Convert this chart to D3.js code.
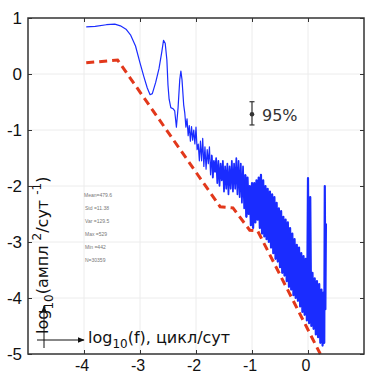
<!DOCTYPE html>
<html>
<head>
<meta charset="utf-8">
<script src="https://cdn.jsdelivr.net/npm/d3@7"></script>
<style>
  body { margin: 0; background: #fff; }
  svg { display: block; }
</style>
</head>
<body>
<figure id="spectrum" style="margin:0"></figure>
<script>
// tick values of both axes
const xTicks = [-4, -3, -2, -1, 0];
const yTicks = [1, 0, -1, -2, -3, -4, -5];

// smooth low-frequency part of the spectrum [log10 f, log10 power]
const lowSpectrum = [
  [-3.96, 0.84], [-3.8, 0.85], [-3.6, 0.88], [-3.45, 0.89], [-3.35, 0.86],
  [-3.25, 0.8], [-3.17, 0.7], [-3.08, 0.5], [-3.0, 0.2], [-2.93, -0.05],
  [-2.87, -0.25], [-2.82, -0.37], [-2.78, -0.35], [-2.72, -0.15], [-2.66, 0.1],
  [-2.61, 0.4], [-2.58, 0.6], [-2.55, 0.55], [-2.52, 0.25], [-2.5, -0.2],
  [-2.48, -0.45], [-2.45, -0.6], [-2.41, -0.62], [-2.38, -0.66], [-2.35, -0.95],
  [-2.32, -0.6], [-2.29, -0.1], [-2.27, 0.05], [-2.25, -0.1], [-2.22, -0.55]
];

// noisy high-frequency part
const highSpectrum = [
  [-2.20, -0.70], [-2.18, -0.95], [-2.16, -0.80], [-2.14, -1.10], [-2.12, -0.92],
  [-2.10, -1.20], [-2.08, -0.94], [-2.06, -1.18], [-2.04, -1.00], [-2.02, -1.25],
  [-2.00, -0.95], [-1.98, -1.35], [-1.96, -1.25], [-1.94, -1.55], [-1.92, -1.20],
  [-1.90, -1.55], [-1.88, -1.15], [-1.86, -1.65], [-1.84, -1.30], [-1.82, -1.70],
  [-1.80, -1.35], [-1.78, -1.60], [-1.76, -1.30], [-1.74, -1.80], [-1.72, -1.45],
  [-1.70, -1.85], [-1.68, -1.55], [-1.66, -1.75], [-1.64, -1.50], [-1.62, -1.95],
  [-1.60, -1.55], [-1.58, -2.00], [-1.56, -1.60], [-1.54, -1.90], [-1.52, -1.55],
  [-1.50, -2.10], [-1.48, -1.65], [-1.46, -2.05], [-1.44, -1.60], [-1.42, -2.15],
  [-1.40, -1.65], [-1.38, -2.05], [-1.36, -1.55], [-1.34, -2.10], [-1.32, -1.60],
  [-1.30, -2.05], [-1.28, -1.50], [-1.26, -2.15], [-1.24, -1.55], [-1.22, -2.20],
  [-1.20, -1.60], [-1.18, -2.30], [-1.16, -1.65], [-1.14, -2.40], [-1.12, -1.80],
  [-1.10, -2.55], [-1.08, -1.85], [-1.06, -2.50], [-1.04, -2.00], [-1.02, -2.70],
  [-1.00, -1.95], [-0.98, -2.75], [-0.96, -1.95], [-0.94, -2.65], [-0.92, -1.90],
  [-0.90, -2.60], [-0.88, -1.85], [-0.86, -2.75], [-0.84, -1.80], [-0.82, -2.85],
  [-0.80, -1.90], [-0.78, -2.90], [-0.76, -2.00], [-0.74, -2.95], [-0.72, -2.05],
  [-0.70, -3.00], [-0.68, -2.10], [-0.66, -3.10], [-0.64, -2.15], [-0.62, -3.20],
  [-0.60, -2.20], [-0.58, -3.30], [-0.56, -2.30], [-0.54, -3.35], [-0.52, -2.40],
  [-0.50, -3.45], [-0.48, -2.45], [-0.46, -3.55], [-0.44, -2.55], [-0.42, -3.60],
  [-0.40, -2.60], [-0.38, -3.70], [-0.36, -2.65], [-0.34, -3.80], [-0.32, -2.75],
  [-0.30, -3.85], [-0.28, -2.85], [-0.26, -3.95], [-0.24, -2.95], [-0.22, -4.00],
  [-0.20, -3.05], [-0.18, -4.05], [-0.16, -3.10], [-0.14, -4.15], [-0.12, -3.20],
  [-0.10, -4.25], [-0.08, -3.25], [-0.06, -4.30], [-0.04, -3.30], [-0.02, -4.40],
  [-0.01, -3.35], [0.00, -1.86], [0.01, -3.40], [0.02, -4.45], [0.03, -2.50],
  [0.04, -2.20], [0.05, -3.50], [0.06, -4.50], [0.08, -3.55], [0.10, -4.55],
  [0.12, -3.65], [0.14, -4.65], [0.16, -3.70], [0.18, -4.70], [0.20, -3.75],
  [0.22, -4.80], [0.24, -3.85], [0.26, -4.85], [0.28, -3.90], [0.29, -4.80],
  [0.30, -2.00], [0.31, -4.20], [0.32, -2.67]
];

// red dashed reference slope
const slopeLine = [
  [-3.96, 0.2], [-3.4, 0.25], [-1.57, -2.37], [-1.34, -2.39],
  [-1.04, -2.79], [-0.9, -2.8], [0.22, -5.0]
];

// 95% confidence bar: x, centre, low, high
const confBar = { x: -1, mid: -0.72, lo: -0.91, hi: -0.495 };

// statistics text block
const statsLines = ["Mean=479.6", "Std =11.38", "Var =129.5", "Max =529", "Min =442", "N=30359"];

// set the dimensions and margins of the graph
const margin = {top: 18, right: 1, bottom: 19, left: 28},
  width = 365 - margin.left - margin.right,
  height = 373 - margin.top - margin.bottom;

const svg = d3.select("figure#spectrum")
  .append("svg")
  .attr("width", 365)
  .attr("height", 373)
  .append("g")
  .attr("transform", "translate(" + margin.left + "," + margin.top + ")");

const x = d3.scaleLinear().domain([-5, 1]).range([0, width]);
const y = d3.scaleLinear().domain([-5, 1]).range([height, 0]);

// grid
svg.append("g")
  .selectAll("line")
  .data(xTicks)
  .enter().append("line")
  .attr("x1", d => x(d)).attr("x2", d => x(d))
  .attr("y1", 0).attr("y2", height)
  .attr("stroke", "#ececec").attr("stroke-width", 1);
svg.append("g")
  .selectAll("line")
  .data(yTicks.filter(d => d > -5 && d < 1))
  .enter().append("line")
  .attr("x1", 0).attr("x2", width)
  .attr("y1", d => y(d)).attr("y2", d => y(d))
  .attr("stroke", "#ececec").attr("stroke-width", 1);

// spectrum
const line = d3.line().x(d => x(d[0])).y(d => y(d[1]));
const blue = "#1a2cff";

svg.append("path")
  .datum(lowSpectrum.concat(highSpectrum.filter(d => d[0] <= -1.7)))
  .attr("d", line)
  .attr("fill", "none")
  .attr("stroke", blue)
  .attr("stroke-width", 1.2)
  .attr("stroke-linejoin", "round");

// dense part is drawn thicker so the band fills like the original
svg.append("path")
  .datum(highSpectrum.filter(d => d[0] >= -1.72 && d[0] <= -1.1))
  .attr("d", line)
  .attr("fill", "none")
  .attr("stroke", blue)
  .attr("stroke-width", 1.7)
  .attr("stroke-linejoin", "round");

svg.append("path")
  .datum(highSpectrum.filter(d => d[0] >= -1.12))
  .attr("d", line)
  .attr("fill", "none")
  .attr("stroke", blue)
  .attr("stroke-width", 2.2)
  .attr("stroke-linejoin", "round");

svg.append("path")
  .datum(slopeLine)
  .attr("d", line)
  .attr("fill", "none")
  .attr("stroke", "#e2381b")
  .attr("stroke-width", 3)
  .attr("stroke-dasharray", "8,5");

// axes box with inward ticks
const tickFmt = d => d3.format("d")(d).replace("−", "-");
const axisStyle = g => {
  g.select(".domain").remove();
  g.selectAll(".tick line").attr("stroke", "#333");
  g.selectAll(".tick text").remove();
};
svg.append("g").attr("transform", `translate(0,${height})`)
  .call(d3.axisBottom(x).tickValues(xTicks).tickSizeInner(-4)).call(axisStyle);
svg.append("g")
  .call(d3.axisTop(x).tickValues(xTicks).tickSizeInner(-4)).call(axisStyle);
svg.append("g")
  .call(d3.axisLeft(y).tickValues(yTicks).tickSizeInner(-4)).call(axisStyle);
svg.append("g").attr("transform", `translate(${width},0)`)
  .call(d3.axisRight(y).tickValues(yTicks).tickSizeInner(-4)).call(axisStyle);

svg.append("rect")
  .attr("width", width).attr("height", height)
  .attr("fill", "none").attr("stroke", "#333").attr("stroke-width", 1.5);

// tick labels
svg.append("g")
  .selectAll("text")
  .data(xTicks)
  .enter().append("text")
  .attr("x", d => x(d) - 2)
  .attr("y", height + 17)
  .attr("text-anchor", "middle")
  .style("font", "16px 'Liberation Sans', Arial, sans-serif")
  .attr("fill", "#111")
  .text(tickFmt);

svg.append("g")
  .selectAll("text")
  .data(yTicks)
  .enter().append("text")
  .attr("x", -6)
  .attr("y", d => y(d))
  .attr("dy", "0.36em")
  .attr("text-anchor", "end")
  .style("font", "17px 'Liberation Sans', Arial, sans-serif")
  .attr("fill", "#111")
  .text(tickFmt);

// y axis label, rotated
const ylab = svg.append("text")
  .attr("transform", `translate(${20},${316}) rotate(-90)`)
  .style("font", "16px 'DejaVu Sans', sans-serif")
  .attr("fill", "#111");
ylab.append("tspan").text("log");
ylab.append("tspan").attr("dy", 5).style("font-size", "12px").text("10");
ylab.append("tspan").attr("dy", -5).text("(ампл ");
ylab.append("tspan").attr("dy", -7).style("font-size", "12px").text("2");
ylab.append("tspan").attr("dy", 7).text("/сут ");
ylab.append("tspan").attr("dy", -7).style("font-size", "12px").text("-1");
ylab.append("tspan").attr("dy", 7).text(")");

// small arrows with x label
const defs = svg.append("defs");
defs.append("marker")
  .attr("id", "arr")
  .attr("viewBox", "0 0 10 10")
  .attr("refX", 9).attr("refY", 5)
  .attr("markerWidth", 7).attr("markerHeight", 7)
  .attr("orient", "auto")
  .append("path").attr("d", "M0,1 L10,5 L0,9 Z").attr("fill", "#111");

svg.append("line")
  .attr("x1", 16).attr("y1", 330).attr("x2", 16).attr("y2", 288)
  .attr("stroke", "#111").attr("stroke-width", 1).attr("marker-end", "url(#arr)");
svg.append("line")
  .attr("x1", 9).attr("y1", 322).attr("x2", 56).attr("y2", 322)
  .attr("stroke", "#111").attr("stroke-width", 1).attr("marker-end", "url(#arr)");

const xlab = svg.append("text")
  .attr("x", 60).attr("y", 325)
  .style("font", "16px 'DejaVu Sans', sans-serif")
  .attr("fill", "#111");
xlab.append("tspan").text("log");
xlab.append("tspan").attr("dy", 5).style("font-size", "12px").text("10");
xlab.append("tspan").attr("dy", -5).text("(f), цикл/сут");

// 95% bar
const cb = svg.append("g");
cb.append("line")
  .attr("x1", x(confBar.x)).attr("x2", x(confBar.x))
  .attr("y1", y(confBar.hi)).attr("y2", y(confBar.lo))
  .attr("stroke", "#333").attr("stroke-width", 1.2);
[confBar.hi, confBar.lo].forEach(v => {
  cb.append("line")
    .attr("x1", x(confBar.x) - 2.5).attr("x2", x(confBar.x) + 2.5)
    .attr("y1", y(v)).attr("y2", y(v))
    .attr("stroke", "#333").attr("stroke-width", 1.2);
});
cb.append("circle")
  .attr("cx", x(confBar.x)).attr("cy", y(confBar.mid)).attr("r", 2.3)
  .attr("fill", "#333");
cb.append("text")
  .attr("x", x(confBar.x) + 10).attr("y", y(confBar.mid) + 7)
  .style("font", "16px 'DejaVu Sans', sans-serif")
  .attr("fill", "#333")
  .text("95%");

// stats
svg.append("g")
  .selectAll("text")
  .data(statsLines)
  .enter().append("text")
  .attr("x", (d, i) => i === 0 ? 56 : 57)
  .attr("y", (d, i) => 179 + i * 13)
  .style("font", "5px 'Liberation Sans', Arial, sans-serif")
  .attr("fill", "#777")
  .text(d => d);
</script>
</body>
</html>
